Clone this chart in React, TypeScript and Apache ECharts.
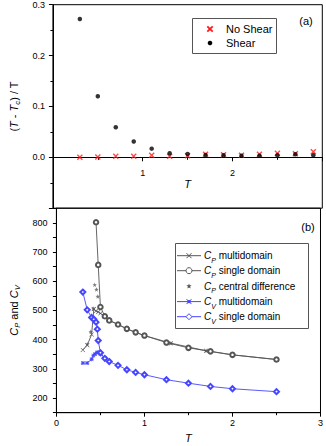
import React, { useEffect, useRef } from 'react';
import * as echarts from 'echarts';

const FONT = '"Liberation Sans", Arial, Helvetica, sans-serif';

// Panel (a)
const topT = [0.3, 0.5, 0.7, 0.9, 1.1, 1.3, 1.5, 1.7, 1.9, 2.1, 2.3, 2.5, 2.7, 2.9];
const noShear = [0.0, 0.0005, 0.002, 0.002, 0.004, 0.002, 0.003, 0.006, 0.005, 0.004, 0.006, 0.008, 0.007, 0.011];
const shear = [0.272, 0.12, 0.059, 0.031, 0.017, 0.008, 0.0065, 0.0045, 0.004, 0.003, 0.003, 0.004, 0.006, 0.004];

// Panel (b)
const cpMultiT = [0.3, 0.35, 0.4, 0.425, 0.45, 0.475, 0.5, 0.55, 0.6, 0.7, 0.8, 0.9, 1.0, 1.3, 1.7, 2.0, 2.5];
const cpMulti = [365, 381, 418, 505, 498, 495, 490, 480, 466, 452, 437, 425, 414, 388, 362, 348, 332];
const cpSingleT = [0.45, 0.475, 0.5, 0.55, 0.6, 0.7, 0.8, 0.9, 1.0, 1.25, 1.5, 1.75, 2.0, 2.5];
const cpSingle = [802, 656, 512, 480, 466, 452, 437, 425, 414, 390, 372, 360, 348, 332];
const cpCentralT = [0.35, 0.39, 0.42, 0.435, 0.455, 0.47, 0.55, 0.6, 0.7, 0.8, 0.9, 1.0, 1.3, 1.7, 2.0, 2.5];
const cpCentral = [385, 428, 507, 588, 572, 548, 480, 466, 452, 437, 425, 414, 388, 362, 348, 332];
const cvMultiT = [0.3, 0.35, 0.4, 0.42, 0.44, 0.46, 0.48, 0.5, 0.55];
const cvMulti = [320, 320, 333, 346, 351, 356, 357, 352, 336];
const cvSingleT = [0.3, 0.35, 0.4, 0.425, 0.45, 0.465, 0.475, 0.5, 0.55, 0.6, 0.7, 0.8, 0.9, 1.0, 1.25, 1.5, 1.75, 2.0, 2.5];
const cvSingle = [563, 502, 476, 470, 460, 436, 397, 355, 336, 325, 312, 297, 288, 280, 263, 251, 240, 232, 222];

const topLegend = ['No Shear', 'Shear'];
const bottomLegend = [
  ['P', ' multidomain'],
  ['P', ' single domain'],
  ['P', ' central difference'],
  ['V', ' multidomain'],
  ['V', ' single domain'],
];

const zip = (xs: number[], ys: number[]) => xs.map((x, i) => [x, ys[i]]);

const X_BOLD = 'path://M0,1.6L1.6,0L5,3.4L8.4,0L10,1.6L6.6,5L10,8.4L8.4,10L5,6.6L1.6,10L0,8.4L3.4,5Z';
const X_THIN = 'path://M0,0.9L0.9,0L5,4.1L9.1,0L10,0.9L5.9,5L10,9.1L9.1,10L5,5.9L0.9,10L0,9.1L4.1,5Z';
const STAR = 'path://M5,0L6.18,3.38L9.76,3.45L6.9,5.62L7.94,9.05L5,7L2.06,9.05L3.1,5.62L0.24,3.45L3.82,3.38Z';
const ASTER = 'path://M4,0H6V4H10V6H6V10H4V6H0V4H4ZM0,1.4L1.4,0L5,3.6L8.6,0L10,1.4L6.4,5L10,8.6L8.6,10L5,6.4L1.4,10L0,8.6L3.6,5Z';

const GRAY = '#555';
const BLUE = '#4646ff';

const subRich = (size: number) => ({
  p: { fontSize: size, lineHeight: 16, fontFamily: FONT, color: '#000' },
  i: { fontSize: size, lineHeight: 16, fontStyle: 'italic', fontFamily: FONT, color: '#000' },
  s: { fontSize: size * 0.7, lineHeight: size * 0.7, verticalAlign: 'bottom', fontStyle: 'italic', fontFamily: FONT, color: '#000' },
});

export default function App() {
  const ref = useRef<HTMLDivElement>(null);
  useEffect(() => {
    document.body.style.margin = '0';
    const chart = echarts.init(ref.current!, null, { renderer: 'svg' });

    const legendItemsB: any[] = [];
    const ys = [255.7, 270.7, 286.2, 301.6, 316.7];
    const markers = [
      { type: 'x', color: GRAY, line: true },
      { type: 'circle', color: GRAY, line: true },
      { type: 'star', color: GRAY, line: false },
      { type: 'aster', color: BLUE, line: true },
      { type: 'diamond', color: BLUE, line: true },
    ];
    bottomLegend.forEach((lab, k) => {
      const y = ys[k];
      const m = markers[k];
      if (m.line) {
        legendItemsB.push({ type: 'line', shape: { x1: 177, y1: y, x2: 201, y2: y }, style: { stroke: m.color, lineWidth: 1 } });
      }
      if (m.type === 'x') {
        legendItemsB.push({ type: 'line', shape: { x1: 186.5, y1: y - 2.5, x2: 191.5, y2: y + 2.5 }, style: { stroke: m.color, lineWidth: 1 } });
        legendItemsB.push({ type: 'line', shape: { x1: 186.5, y1: y + 2.5, x2: 191.5, y2: y - 2.5 }, style: { stroke: m.color, lineWidth: 1 } });
      } else if (m.type === 'circle') {
        legendItemsB.push({ type: 'circle', shape: { cx: 189, cy: y, r: 3 }, style: { fill: '#fff', stroke: m.color, lineWidth: 1 } });
      } else if (m.type === 'star') {
        const pts: number[][] = [];
        for (let j = 0; j < 10; j++) {
          const r = j % 2 === 0 ? 2.8 : 1.2;
          const a = -Math.PI / 2 + (j * Math.PI) / 5;
          pts.push([189 + r * Math.cos(a), y + r * Math.sin(a)]);
        }
        legendItemsB.push({ type: 'polygon', shape: { points: pts }, style: { fill: m.color } });
      } else if (m.type === 'aster') {
        legendItemsB.push({ type: 'rect', shape: { x: 187.5, y: y - 1.5, width: 3, height: 3 }, style: { fill: m.color } });
        legendItemsB.push({ type: 'line', shape: { x1: 186.5, y1: y - 2.5, x2: 191.5, y2: y + 2.5 }, style: { stroke: m.color, lineWidth: 1 } });
        legendItemsB.push({ type: 'line', shape: { x1: 186.5, y1: y + 2.5, x2: 191.5, y2: y - 2.5 }, style: { stroke: m.color, lineWidth: 1 } });
      } else {
        legendItemsB.push({ type: 'polygon', shape: { points: [[189, y - 3], [192, y], [189, y + 3], [186, y]] }, style: { fill: '#fff', stroke: m.color, lineWidth: 1 } });
      }
      legendItemsB.push({
        type: 'text',
        x: 204,
        y: y,
        style: {
          text: `{i|C}{s|${lab[0]}}{p|${lab[1]}}`,
          rich: subRich(10),
          verticalAlign: 'middle',
          align: 'left',
        },
      });
    });

    const option: any = {
      animation: false,
      grid: [
        { left: 45.7, top: 4.7, width: 276.6, height: 203.5, show: true, borderColor: '#000', borderWidth: 1, containLabel: false },
        { left: 45.7, top: 208.2, width: 276.6, height: 204.5, show: true, borderColor: '#000', borderWidth: 1, containLabel: false },
      ],
      xAxis: [
        {
          gridIndex: 0, type: 'value', min: 0, max: 3, interval: 1,
          position: 'bottom', offset: -50.9,
          axisLine: { onZero: false, lineStyle: { color: '#000', width: 1 } },
          axisTick: { show: true, length: 4, lineStyle: { color: '#000' } },
          minorTick: { show: true, splitNumber: 2, length: 2.5, lineStyle: { color: '#000' } },
          splitLine: { show: false },
          axisLabel: { fontSize: 9, color: '#000', fontFamily: FONT, margin: 11, formatter: (v: number) => (v > 0.5 && v < 2.5 ? String(v) : '') },
          name: 'T', nameLocation: 'middle', nameGap: 21,
          nameTextStyle: { fontSize: 11, fontStyle: 'italic', color: '#000', fontFamily: FONT },
        },
        {
          gridIndex: 1, type: 'value', min: 0, max: 3, interval: 1,
          axisLine: { onZero: false, lineStyle: { color: '#000', width: 1 } },
          axisTick: { show: true, length: 4, lineStyle: { color: '#000' } },
          minorTick: { show: true, splitNumber: 2, length: 2.5, lineStyle: { color: '#000' } },
          splitLine: { show: false },
          axisLabel: { fontSize: 9, color: '#000', fontFamily: FONT, margin: 6, showMaxLabel: true, showMinLabel: true },
          name: 'T', nameLocation: 'middle', nameGap: 20,
          nameTextStyle: { fontSize: 11, fontStyle: 'italic', color: '#000', fontFamily: FONT },
        },
      ],
      yAxis: [
        {
          gridIndex: 0, type: 'value', min: -0.1, max: 0.3, interval: 0.1,
          axisLine: { show: true, lineStyle: { color: '#000', width: 1 } },
          axisTick: { show: true, length: 4, lineStyle: { color: '#000' } },
          minorTick: { show: true, splitNumber: 2, length: 2.5, lineStyle: { color: '#000' } },
          splitLine: { show: false },
          axisLabel: { fontSize: 9, color: '#000', fontFamily: FONT, margin: 8, formatter: (v: number) => (v < -0.05 ? '' : v.toFixed(1)) },
          name: '{p|(}{i|T}{p| - }{i|T}{s|c}{p|) / T}', nameLocation: 'middle', nameGap: 27,
          nameTextStyle: { rich: subRich(11) },
        },
        {
          gridIndex: 1, type: 'value', min: 150, max: 850, interval: 50,
          axisLine: { show: true, lineStyle: { color: '#000', width: 1 } },
          axisTick: { show: true, length: 3.5, lineStyle: { color: '#000' } },
          splitLine: { show: false },
          axisLabel: { fontSize: 9, color: '#000', fontFamily: FONT, margin: 9, formatter: (v: number) => (Math.round(v) % 100 === 0 ? String(Math.round(v)) : '') },
          name: '{i|C}{s|P}{p| and }{i|C}{s|V}', nameLocation: 'middle', nameGap: 27,
          nameTextStyle: { rich: subRich(11) },
        },
      ],
      series: [
        {
          name: topLegend[0], type: 'scatter', xAxisIndex: 0, yAxisIndex: 0,
          data: zip(topT, noShear), symbol: X_BOLD, symbolSize: 6,
          itemStyle: { color: '#ff1a1a' },
        },
        {
          name: topLegend[1], type: 'scatter', xAxisIndex: 0, yAxisIndex: 0,
          data: zip(topT, shear), symbol: 'circle', symbolSize: 4.5,
          itemStyle: { color: '#000' },
        },
        {
          name: 'Cp multidomain', type: 'line', xAxisIndex: 1, yAxisIndex: 1,
          data: zip(cpMultiT, cpMulti), symbol: X_THIN, symbolSize: 4.5, showAllSymbol: true,
          lineStyle: { color: GRAY, width: 0.9 }, itemStyle: { color: GRAY },
        },
        {
          name: 'Cp single domain', type: 'line', xAxisIndex: 1, yAxisIndex: 1,
          data: zip(cpSingleT, cpSingle), symbol: 'emptyCircle', symbolSize: 4.5, showAllSymbol: true,
          lineStyle: { color: GRAY, width: 0.9 }, itemStyle: { color: GRAY, borderWidth: 0.9 },
        },
        {
          name: 'Cp central difference', type: 'scatter', xAxisIndex: 1, yAxisIndex: 1,
          data: zip(cpCentralT, cpCentral), symbol: STAR, symbolSize: 4.5,
          itemStyle: { color: GRAY },
        },
        {
          name: 'Cv multidomain', type: 'line', xAxisIndex: 1, yAxisIndex: 1,
          data: zip(cvMultiT, cvMulti), symbol: ASTER, symbolSize: 4, showAllSymbol: true,
          lineStyle: { color: BLUE, width: 0.9 }, itemStyle: { color: BLUE },
        },
        {
          name: 'Cv single domain', type: 'line', xAxisIndex: 1, yAxisIndex: 1,
          data: zip(cvSingleT, cvSingle), symbol: 'emptyDiamond', symbolSize: 5, showAllSymbol: true,
          lineStyle: { color: BLUE, width: 0.9 }, itemStyle: { color: BLUE, borderWidth: 0.9 },
        },
      ],
      graphic: [
        { type: 'text', x: 306, y: 21, style: { text: '(a)', fontSize: 11, fontFamily: FONT, fill: '#000', align: 'center', verticalAlign: 'middle' } },
        { type: 'text', x: 308, y: 227, style: { text: '(b)', fontSize: 11, fontFamily: FONT, fill: '#000', align: 'center', verticalAlign: 'middle' } },
        { type: 'rect', shape: { x: 192.5, y: 18.5, width: 84, height: 35 }, style: { fill: '#fff', stroke: GRAY, lineWidth: 1 } },
        { type: 'line', shape: { x1: 207.3, y1: 26.3, x2: 212.7, y2: 31.7 }, style: { stroke: '#ff1a1a', lineWidth: 1.8 } },
        { type: 'line', shape: { x1: 207.3, y1: 31.7, x2: 212.7, y2: 26.3 }, style: { stroke: '#ff1a1a', lineWidth: 1.8 } },
        { type: 'text', x: 226, y: 29, style: { text: topLegend[0], fontSize: 11, fontFamily: FONT, fill: '#000', verticalAlign: 'middle' } },
        { type: 'circle', shape: { cx: 210, cy: 43, r: 2.3 }, style: { fill: '#000' } },
        { type: 'text', x: 226, y: 43, style: { text: topLegend[1], fontSize: 11, fontFamily: FONT, fill: '#000', verticalAlign: 'middle' } },
        { type: 'rect', shape: { x: 175.5, y: 243.5, width: 133, height: 85 }, style: { fill: '#fff', stroke: GRAY, lineWidth: 1 } },
        ...legendItemsB,
      ],
    };
    chart.setOption(option);
    return () => chart.dispose();
  }, []);
  return <div ref={ref} style={{ width: 326, height: 446 }} />;
}
